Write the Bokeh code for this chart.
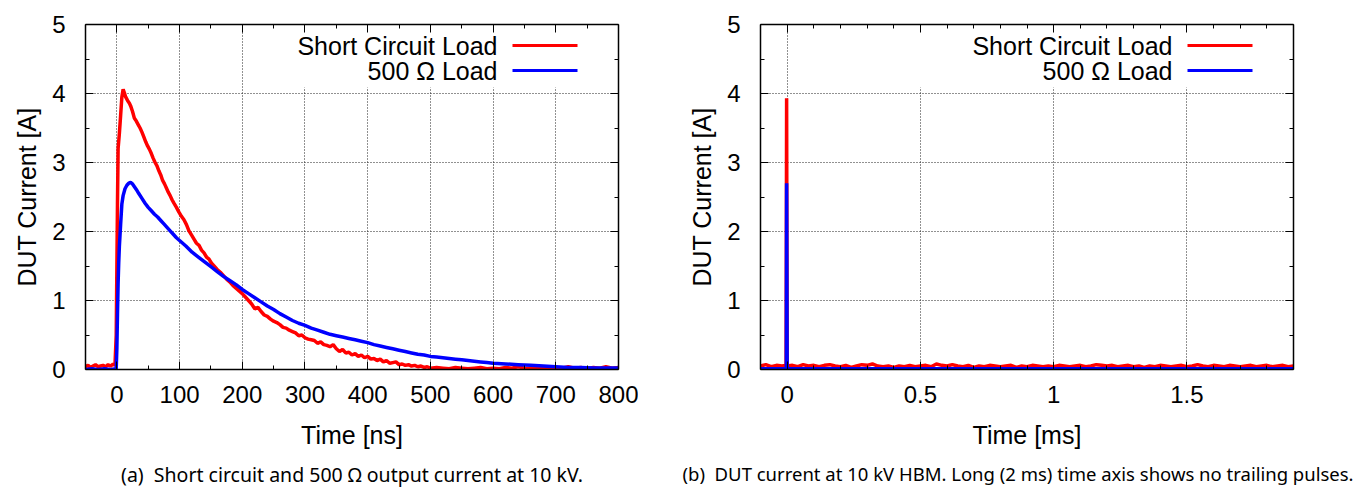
from bokeh.plotting import figure
from bokeh.layouts import row
from bokeh.models import FixedTicker, LinearAxis, Label, BoxAnnotation, Range1d
from bokeh.embed import file_html
from bokeh.resources import INLINE

# ---------------- Panel (a): time in ns ----------------
sc_t_ns = [-50, -46, -42, -38, -34, -30, -26, -22, -18, -14, -10, -6, -3, -1, 1, 2, 4, 6, 8, 10,
           12, 14, 17, 20, 22, 25, 28, 31, 34, 37, 40, 43, 46, 49, 52, 55, 58, 61, 64, 67,
           70, 73, 76, 79, 82, 85, 88, 91, 95, 99, 103, 107, 111, 115, 119, 123, 127, 131, 135, 139,
           143, 147, 151, 155, 160, 165, 170, 175, 180, 185, 190, 195, 200, 205, 210, 215, 220, 225, 230, 235,
           240, 245, 250, 255, 260, 265, 270, 275, 280, 285, 290, 295, 300, 305, 310, 315, 320, 325, 330, 335,
           340, 345, 350, 355, 360, 365, 370, 375, 380, 385, 390, 395, 400, 405, 410, 415, 420, 425, 430, 435,
           440, 445, 450, 455, 460, 465, 470, 475, 480, 485, 490, 495, 500, 510, 520, 530, 540, 550, 560, 570,
           580, 590, 600, 610, 620, 630, 640, 650, 660, 670, 680, 690, 700, 710, 720, 730, 740, 750, 760, 770,
           780, 790, 800]
sc_i_a = [0.04, 0.06, 0.03, 0.05, 0.07, 0.04, 0.05, 0.06, 0.04, 0.07, 0.05, 0.08, 0.06, 0.5, 2.4, 3.2, 3.42, 3.68, 3.95, 4.06,
          4.01, 3.95, 3.90, 3.86, 3.82, 3.74, 3.64, 3.60, 3.55, 3.50, 3.44, 3.37, 3.30, 3.24, 3.19, 3.13, 3.06, 3.00, 2.95, 2.88,
          2.82, 2.74, 2.69, 2.63, 2.57, 2.52, 2.46, 2.41, 2.35, 2.28, 2.22, 2.17, 2.10, 2.01, 1.95, 1.89, 1.83, 1.80, 1.73, 1.69,
          1.63, 1.60, 1.54, 1.50, 1.45, 1.41, 1.36, 1.31, 1.27, 1.22, 1.18, 1.14, 1.10, 1.05, 1.00, 0.95, 0.88, 0.90, 0.84, 0.79,
          0.77, 0.73, 0.70, 0.68, 0.65, 0.61, 0.60, 0.57, 0.55, 0.53, 0.49, 0.50, 0.46, 0.44, 0.43, 0.42, 0.38, 0.40, 0.36, 0.35,
          0.33, 0.36, 0.30, 0.26, 0.29, 0.24, 0.25, 0.21, 0.23, 0.19, 0.21, 0.17, 0.19, 0.15, 0.16, 0.13, 0.15, 0.11, 0.13, 0.09,
          0.10, 0.11, 0.07, 0.08, 0.06, 0.07, 0.05, 0.06, 0.04, 0.05, 0.03, 0.04, 0.02, 0.03, 0.02, 0.01, 0.03, 0.02, 0.01, 0.02,
          0.03, 0.01, 0.02, 0.01, 0.03, 0.02, 0.04, 0.02, 0.01, 0.03, 0.02, 0.01, 0.03, 0.02, 0.04, 0.02, 0.03, 0.01, 0.03, 0.02,
          0.04, 0.02, 0.03]

r500_t_ns = [-50, -40, -30, -20, -10, -1, 0, 1, 2, 3, 4, 6, 8, 10, 13, 16, 19, 22, 25, 28,
             31, 35, 40, 45, 50, 55, 60, 65, 70, 75, 80, 85, 90, 95, 100, 110, 120, 130, 140, 150,
             160, 170, 180, 190, 200, 210, 220, 230, 240, 250, 260, 270, 280, 290, 300, 310, 320, 330, 340, 350,
             360, 370, 380, 390, 400, 410, 420, 430, 440, 450, 460, 470, 480, 490, 500, 510, 520, 530, 540, 550,
             560, 570, 580, 590, 600, 620, 640, 660, 680, 700, 720, 740, 760, 780, 800]
r500_i_a = [0.00, 0.01, 0.00, 0.01, 0.00, 0.01, 0.30, 0.80, 1.25, 1.55, 1.78, 2.10, 2.40, 2.52, 2.62, 2.67, 2.70, 2.71, 2.69, 2.65,
            2.61, 2.55, 2.48, 2.41, 2.35, 2.30, 2.25, 2.21, 2.16, 2.11, 2.06, 2.01, 1.96, 1.91, 1.87, 1.79, 1.70, 1.63, 1.56, 1.49,
            1.42, 1.35, 1.29, 1.23, 1.16, 1.10, 1.04, 0.98, 0.92, 0.87, 0.81, 0.76, 0.71, 0.67, 0.64, 0.60, 0.57, 0.54, 0.51, 0.49,
            0.47, 0.45, 0.43, 0.41, 0.39, 0.36, 0.34, 0.32, 0.30, 0.28, 0.26, 0.24, 0.22, 0.21, 0.19, 0.18, 0.17, 0.16, 0.15, 0.14,
            0.13, 0.12, 0.11, 0.10, 0.09, 0.08, 0.07, 0.06, 0.05, 0.04, 0.03, 0.03, 0.02, 0.02, 0.02]

# ---------------- Panel (b): time in ms ----------------
sc_t_ms = [-0.1, -0.08, -0.06, -0.04, -0.02, -0.004, -0.002, 0.0, 0.02, 0.04, 0.06, 0.08, 0.10, 0.12, 0.14, 0.16, 0.18, 0.20,
           0.22, 0.24, 0.26, 0.28, 0.30, 0.32, 0.34, 0.36, 0.38, 0.40, 0.42, 0.44, 0.46, 0.48, 0.50, 0.52, 0.54, 0.56,
           0.58, 0.60, 0.62, 0.64, 0.66, 0.68, 0.70, 0.72, 0.74, 0.76, 0.78, 0.80, 0.82, 0.84, 0.86, 0.88, 0.90, 0.92,
           0.94, 0.96, 0.98, 1.00, 1.02, 1.04, 1.06, 1.08, 1.10, 1.12, 1.14, 1.16, 1.18, 1.20, 1.22, 1.24, 1.26, 1.28,
           1.30, 1.32, 1.34, 1.36, 1.38, 1.40, 1.42, 1.44, 1.46, 1.48, 1.50, 1.52, 1.54, 1.56, 1.58, 1.60, 1.62, 1.64,
           1.66, 1.68, 1.70, 1.72, 1.74, 1.76, 1.78, 1.80, 1.82, 1.84, 1.86, 1.88, 1.90]
sc_i_b = [0.05, 0.07, 0.04, 0.06, 0.05, 0.06, 3.93, 0.05, 0.06, 0.04, 0.07, 0.05, 0.06, 0.04, 0.06, 0.07, 0.05, 0.04,
          0.06, 0.03, 0.05, 0.07, 0.06, 0.08, 0.05, 0.04, 0.05, 0.03, 0.05, 0.04, 0.06, 0.04, 0.05, 0.06, 0.04, 0.08,
          0.06, 0.05, 0.07, 0.05, 0.04, 0.06, 0.03, 0.05, 0.04, 0.06, 0.05, 0.04, 0.05, 0.06, 0.03, 0.05, 0.04, 0.06,
          0.05, 0.04, 0.05, 0.04, 0.06, 0.05, 0.04, 0.05, 0.06, 0.04, 0.05, 0.07, 0.06, 0.05, 0.06, 0.04, 0.05, 0.06,
          0.04, 0.05, 0.03, 0.05, 0.04, 0.06, 0.05, 0.04, 0.05, 0.06, 0.04, 0.05, 0.07, 0.05, 0.04, 0.06, 0.05, 0.04,
          0.06, 0.05, 0.04, 0.05, 0.06, 0.04, 0.05, 0.06, 0.04, 0.05, 0.06, 0.04, 0.05]

r500_t_ms = [-0.1, -0.05, -0.003, -0.002, 0.0, 0.003, 0.3, 0.6, 0.9, 1.2, 1.5, 1.9]
r500_i_b = [0.01, 0.01, 0.01, 2.70, 0.01, 0.01, 0.01, 0.01, 0.01, 0.01, 0.01, 0.01]

series_labels = ["Short Circuit Load", "500 \u03a9 Load"]
series_colors = ["#ff0000", "#0000ff"]

y_ticks = [0, 1, 2, 3, 4, 5]
y_minor = [0.5, 1.5, 2.5, 3.5, 4.5]
xa_ticks = [0, 100, 200, 300, 400, 500, 600, 700, 800]
xa_minor = [-50, 50, 150, 250, 350, 450, 550, 650, 750]
xb_ticks = [0, 0.5, 1, 1.5]
xb_minor = [-0.1, 0.1, 0.2, 0.3, 0.4, 0.6, 0.7, 0.8, 0.9, 1.1, 1.2, 1.3, 1.4, 1.6, 1.7, 1.8, 1.9]
xb_labels = {0: "0", 0.5: "0.5", 1: "1", 1.5: "1.5"}

caption_a = "(a)\u00a0 Short circuit and 500 \u03a9 output current at 10 kV."
caption_b = "(b)\u00a0 DUT current at 10 kV HBM. Long (2 ms) time axis shows no trailing pulses."

FONT = "Liberation Sans"
TICK_FS = "24px"
LAB_FS = "25px"
FRAME_W = 533
FRAME_H = 346


def build(xr, xt, xm, xlabel, caption, cap_fs, cap_align, cap_offset, width, bl, br, overrides=None):
    p = figure(width=width, height=494, x_range=Range1d(*xr), y_range=Range1d(0, 5),
               output_backend="svg", toolbar_location=None,
               title=caption, title_location="below",
               min_border_left=bl, min_border_right=br, min_border_top=24, min_border_bottom=124)
    p.title.align = cap_align
    p.title.text_font = "Noto Sans"
    p.title.text_font_size = cap_fs
    p.title.text_font_style = "normal"
    p.title.text_color = "black"
    p.title.standoff = 14
    p.title.offset = cap_offset
    p.outline_line_color = None
    p.background_fill_color = "white"

    for ax in (p.xaxis[0], p.yaxis[0]):
        ax.major_label_text_font = FONT
        ax.major_label_text_font_size = TICK_FS
        ax.axis_label_text_font = FONT
        ax.axis_label_text_font_size = LAB_FS
        ax.axis_label_text_font_style = "normal"
        ax.major_tick_in = 8
        ax.major_tick_out = 0
        ax.minor_tick_in = 4
        ax.minor_tick_out = 0
        ax.axis_line_width = 1.5
        ax.axis_line_color = "black"
        ax.major_label_text_color = "black"
        ax.axis_label_text_color = "black"

    p.xaxis.ticker = FixedTicker(ticks=xt, minor_ticks=xm)
    p.yaxis.ticker = FixedTicker(ticks=y_ticks, minor_ticks=y_minor)
    p.xaxis.axis_label = xlabel
    p.yaxis.axis_label = "DUT Current [A]"
    p.xaxis.major_label_standoff = 16
    p.xaxis.axis_label_standoff = 15
    p.yaxis.major_label_standoff = 20
    p.yaxis.axis_label_standoff = 8
    if overrides:
        p.xaxis.major_label_overrides = overrides

    # mirrored border axes (top and right), ticks only
    for loc, tk in (("above", FixedTicker(ticks=xt, minor_ticks=xm)),
                    ("right", FixedTicker(ticks=y_ticks, minor_ticks=y_minor))):
        a = LinearAxis(ticker=tk, major_label_text_color=None, major_label_text_font_size="1px",
                       major_label_standoff=0,
                       major_tick_in=8, major_tick_out=0, minor_tick_in=4, minor_tick_out=0,
                       axis_line_width=1.5, axis_line_color="black")
        p.add_layout(a, loc)

    p.xgrid.grid_line_color = "#222222"
    p.ygrid.grid_line_color = "#222222"
    p.xgrid.grid_line_dash = "1 2"
    p.ygrid.grid_line_dash = "1 2"
    p.xgrid.grid_line_width = 1
    p.ygrid.grid_line_width = 1

    # key background (hides grid behind the key)
    p.add_layout(BoxAnnotation(left=FRAME_W - 374, right=FRAME_W, bottom=FRAME_H - 64, top=FRAME_H,
                               left_units="screen", right_units="screen",
                               bottom_units="screen", top_units="screen",
                               fill_color="white", fill_alpha=1.0, line_color=None, level="underlay"))
    return p


def add_key(p):
    for k, (lab, col) in enumerate(zip(series_labels, series_colors)):
        yy = FRAME_H - 22 - 25 * k
        p.add_layout(Label(x=412, y=yy, x_units="screen", y_units="screen", text=lab,
                           text_align="right", text_baseline="middle",
                           text_font=FONT, text_font_size=LAB_FS, text_color="black"))
        p.add_layout(BoxAnnotation(left=427, right=492, bottom=yy - 1.5, top=yy + 1.5,
                                   left_units="screen", right_units="screen",
                                   bottom_units="screen", top_units="screen",
                                   fill_color=col, fill_alpha=1.0, line_color=None))


pa = build((-50, 800), xa_ticks, xa_minor, "Time [ns]", caption_a, "19.5px", "center", 0, 638, 85, 20)
pa.line(sc_t_ns, sc_i_a, color=series_colors[0], line_width=3.5)
pa.line(r500_t_ns, r500_i_a, color=series_colors[1], line_width=3.5)
add_key(pa)

pb = build((-0.1, 1.9), xb_ticks, xb_minor, "Time [ms]", caption_b, "18.5px", "left", -78, 721, 122, 66,
           overrides=xb_labels)
pb.line(sc_t_ms, sc_i_b, color=series_colors[0], line_width=3.5)
pb.line(r500_t_ms, r500_i_b, color=series_colors[1], line_width=3.5)
add_key(pb)

layout = row(pa, pb)
open("out.html", "w").write(file_html(layout, INLINE))
